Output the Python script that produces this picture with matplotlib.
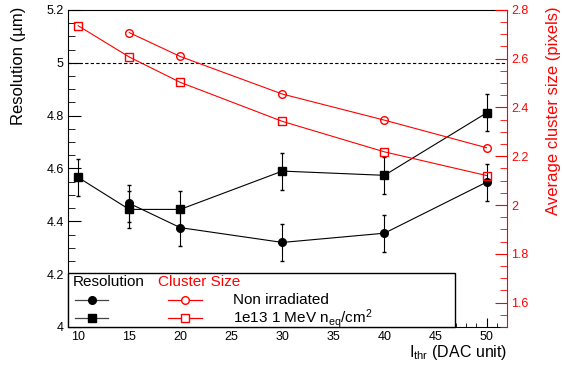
import matplotlib
matplotlib.use("Agg")
import matplotlib.pyplot as plt
from matplotlib.lines import Line2D
from matplotlib.patches import Rectangle
from matplotlib.ticker import MultipleLocator, FuncFormatter

plt.rcParams["font.family"] = ["Liberation Sans", "DejaVu Sans"]
plt.rcParams["mathtext.fontset"] = "custom"
plt.rcParams["mathtext.rm"] = "Liberation Sans"
plt.rcParams["mathtext.it"] = "Liberation Sans"

# threshold (DAC units)
THR_NONIRR = [15, 20, 30, 40, 50]
THR_IRR = [10, 15, 20, 30, 40, 50]

# resolution (um)
RES_NONIRR = [4.468, 4.376, 4.320, 4.355, 4.548]
RES_IRR = [4.566, 4.445, 4.445, 4.590, 4.574, 4.810]
ERR_NONIRR = [0.07, 0.07, 0.07, 0.07, 0.07]
ERR_IRR = [0.07, 0.07, 0.07, 0.07, 0.07, 0.07]

# average cluster size (pixels)
CLU_NONIRR = [2.707, 2.609, 2.455, 2.348, 2.235]
CLU_IRR = [2.735, 2.607, 2.503, 2.343, 2.218, 2.121]

LABEL_NONIRR = "Non irradiated"
LABEL_IRR = r"1e13 1 MeV n$_{\rm eq}$/cm$^{2}$"
RED = "#ff0000"

fmt = FuncFormatter(lambda v, pos: f"{v:g}")

fig = plt.figure(figsize=(5.62, 3.67), dpi=100)
ax1 = fig.add_axes([0.121, 0.109, 0.781, 0.864])
ax2 = ax1.twinx()

# resolution on the left axis
ax1.errorbar(THR_NONIRR, RES_NONIRR, yerr=ERR_NONIRR, color="black", marker="o",
             ms=5.5, lw=0.8, elinewidth=0.8, capsize=1.5)
ax1.errorbar(THR_IRR, RES_IRR, yerr=ERR_IRR, color="black", marker="s",
             ms=5.5, lw=0.8, elinewidth=0.8, capsize=1.5)
ax1.axhline(5.0, color="black", lw=0.8, ls=(0, (3, 2)))

ax1.set_xlim(9, 52)
ax1.set_ylim(4, 5.2)
ax1.xaxis.set_major_locator(MultipleLocator(5))
ax1.xaxis.set_minor_locator(MultipleLocator(1))
ax1.yaxis.set_major_locator(MultipleLocator(0.2))
ax1.yaxis.set_minor_locator(MultipleLocator(0.05))
ax1.yaxis.set_major_formatter(fmt)
ax1.tick_params(which="both", direction="in", labelsize=9, top=False, right=False)
ax1.tick_params(axis="y", which="major", length=9, pad=3)
ax1.tick_params(axis="y", which="minor", length=5)
ax1.tick_params(axis="x", which="major", length=6.5, pad=3)
ax1.tick_params(axis="x", which="minor", length=3)
ax1.spines["right"].set_visible(False)
ax1.set_ylabel("Resolution (µm)", fontsize=12, loc="top")
ax1.yaxis.set_label_coords(-0.095, 1.01)
ax1.set_xlabel(r"I$_{\rm thr}$ (DAC unit)", fontsize=11.5, loc="right", labelpad=0)

# cluster size on the right axis
ax2.plot(THR_NONIRR, CLU_NONIRR, color=RED, marker="o", ms=5.5, mfc="none",
         mec=RED, lw=0.8)
ax2.plot(THR_IRR, CLU_IRR, color=RED, marker="s", ms=5.5, mfc="none",
         mec=RED, lw=0.8)
ax2.set_ylim(1.5, 2.8)
ax2.yaxis.set_major_locator(MultipleLocator(0.2))
ax2.yaxis.set_minor_locator(MultipleLocator(0.05))
ax2.yaxis.set_major_formatter(fmt)
ax2.tick_params(axis="y", which="both", direction="in", colors=RED, labelsize=9)
ax2.tick_params(axis="y", which="major", length=9, pad=3)
ax2.tick_params(axis="y", which="minor", length=5)
ax2.spines["right"].set_color(RED)
ax2.spines["left"].set_visible(False)
ax2.spines["top"].set_visible(False)
ax2.spines["bottom"].set_visible(False)
ax2.set_ylabel("Average cluster size (pixels)", fontsize=12, color=RED, loc="top")
ax2.yaxis.set_label_coords(1.09, 1.01)

# legend box in the lower left corner
box = Rectangle((0, 0), 0.882, 0.170, transform=ax2.transAxes, facecolor="white",
                edgecolor="black", lw=1.0, zorder=10, clip_on=False)
ax2.add_patch(box)
ax2.text(0.011, 0.142, "Resolution", transform=ax2.transAxes, fontsize=11,
         color="black", va="center", ha="left", zorder=11)
ax2.text(0.205, 0.142, "Cluster Size", transform=ax2.transAxes, fontsize=11,
         color=RED, va="center", ha="left", zorder=11)
rows = [(0.085, "o", LABEL_NONIRR), (0.028, "s", LABEL_IRR)]
for y, mk, label in rows:
    ax2.add_line(Line2D([0.016, 0.091], [y, y], transform=ax2.transAxes,
                        color="#444444", lw=0.9, zorder=11))
    ax2.add_line(Line2D([0.054], [y], transform=ax2.transAxes, color="black",
                        marker=mk, ms=5.5, ls="none", zorder=12))
    ax2.add_line(Line2D([0.228, 0.305], [y, y], transform=ax2.transAxes,
                        color=RED, lw=0.9, zorder=11))
    ax2.add_line(Line2D([0.266], [y], transform=ax2.transAxes, color=RED,
                        marker=mk, ms=5.5, mfc="white", ls="none", zorder=12))
    ax2.text(0.376, y, label, transform=ax2.transAxes, fontsize=11,
             va="center", ha="left", zorder=11)

fig.savefig("out.png", dpi=100)
